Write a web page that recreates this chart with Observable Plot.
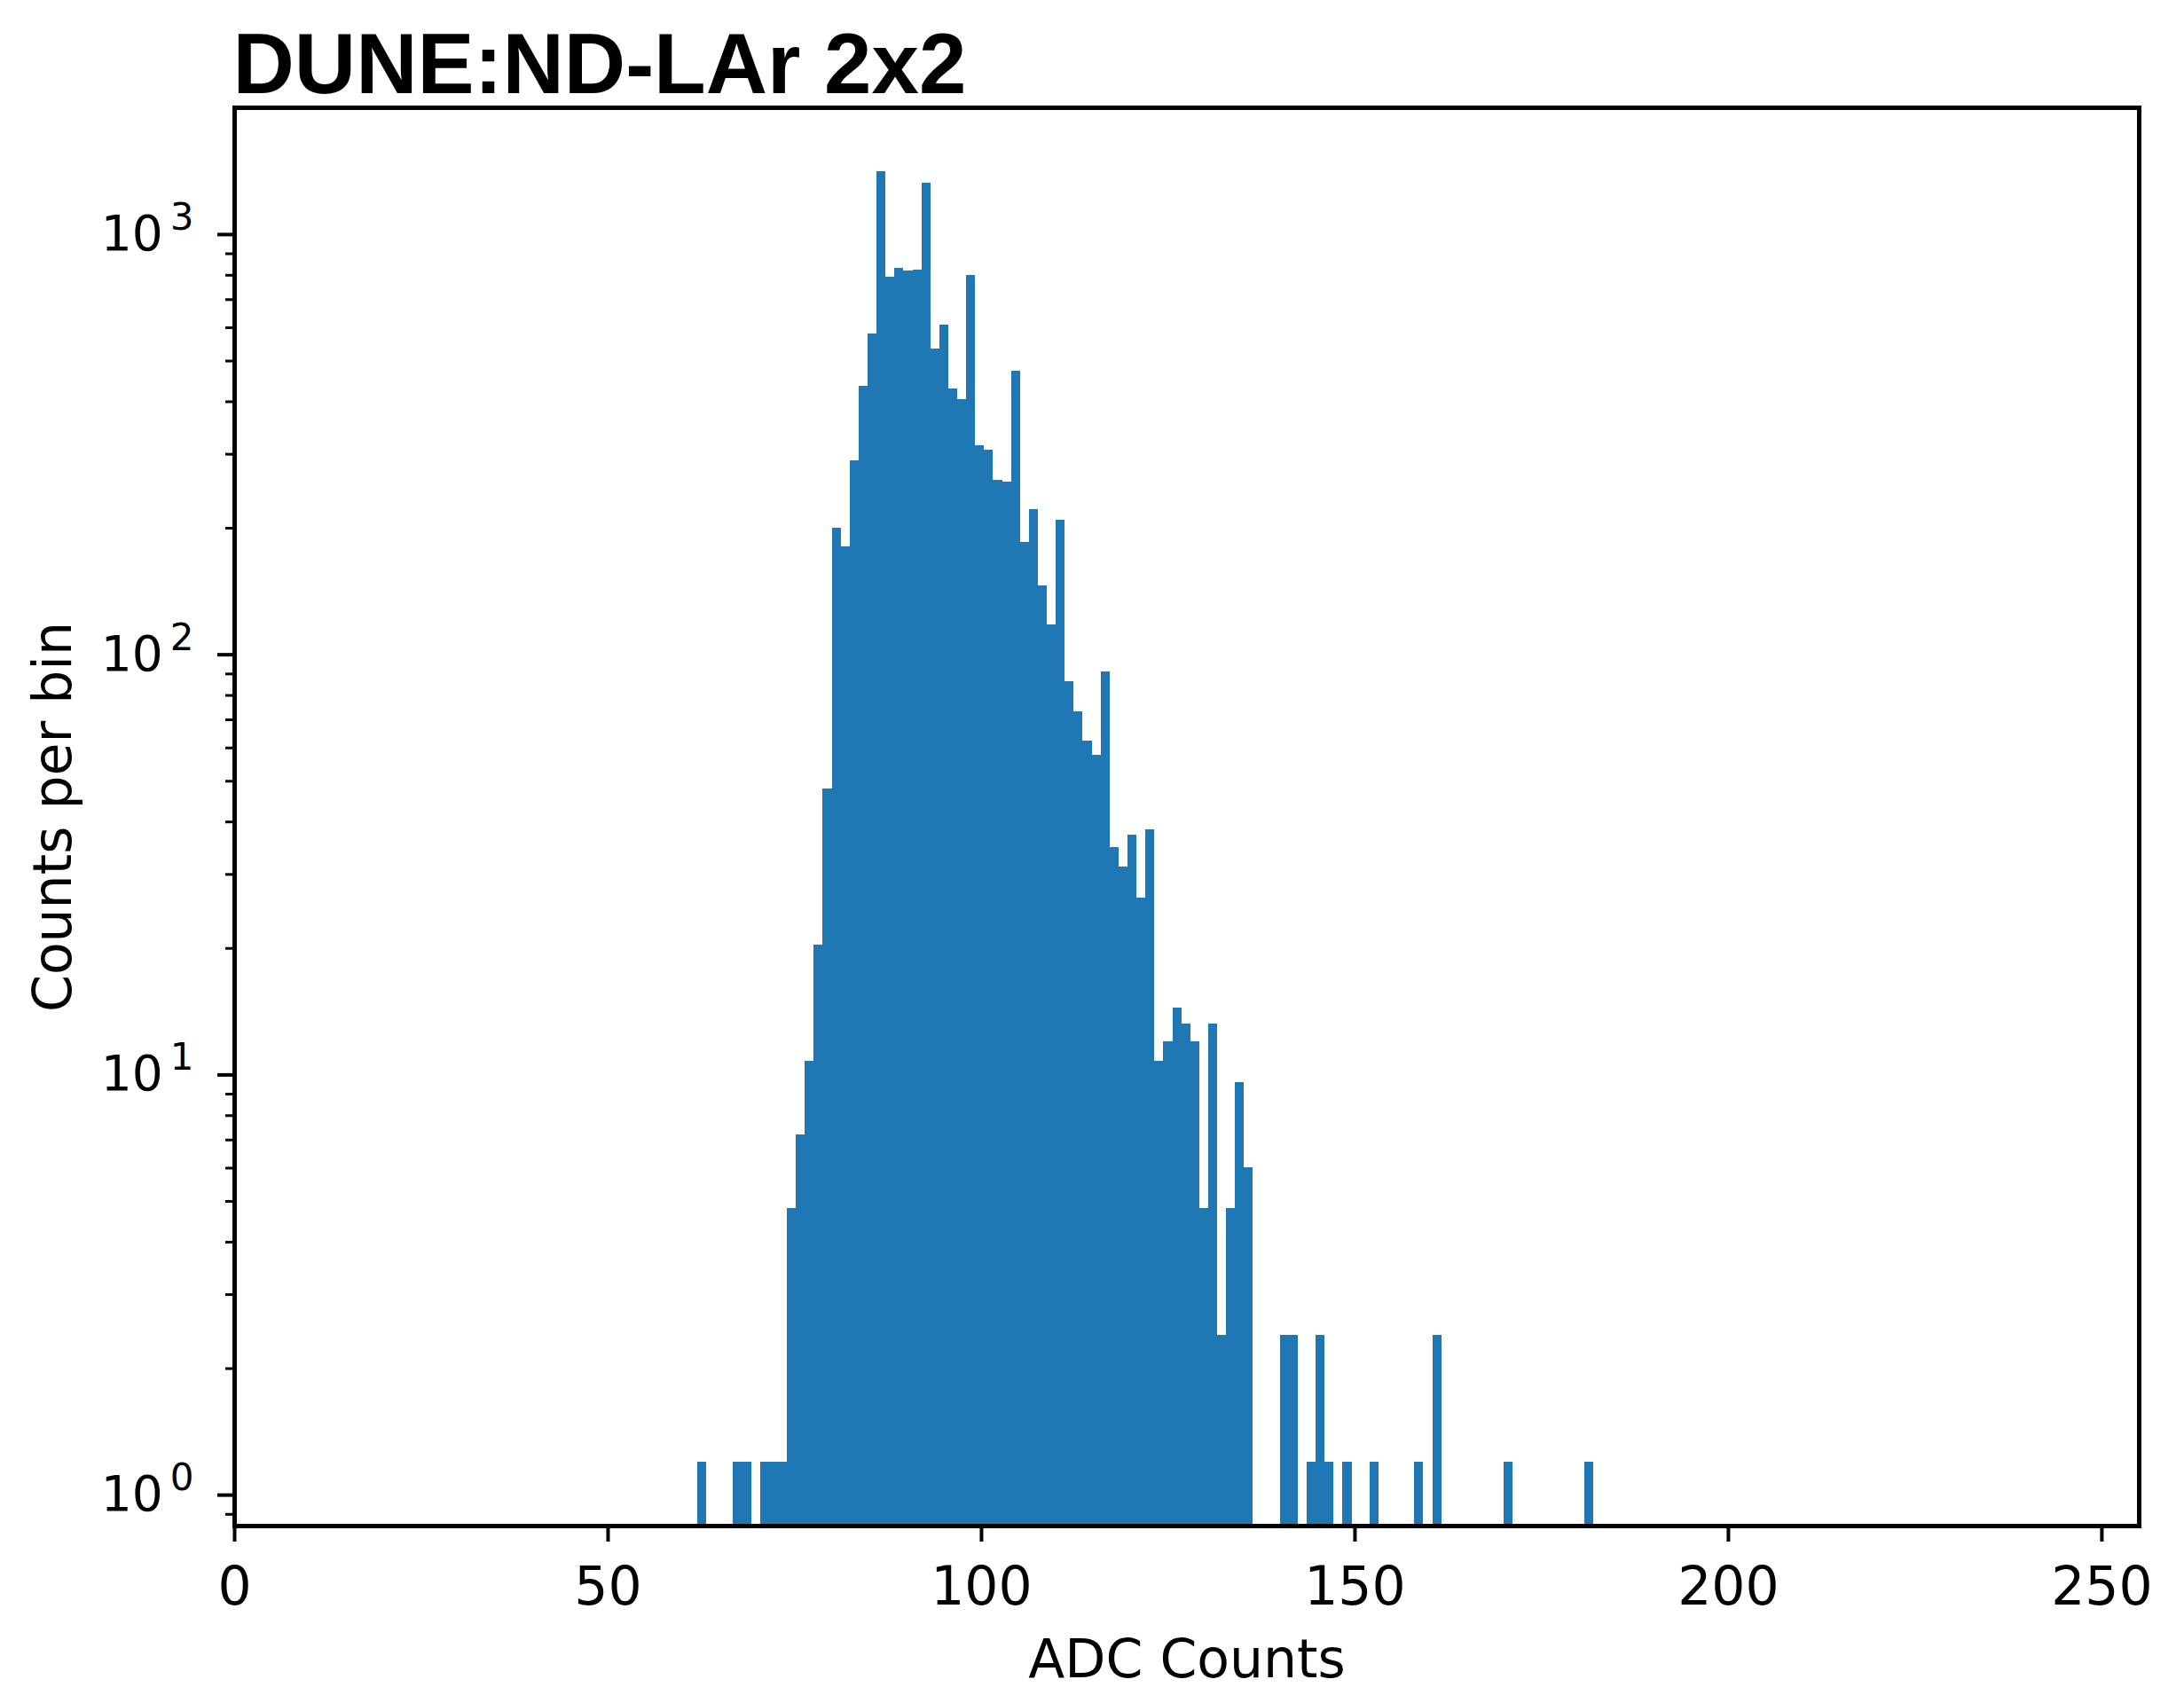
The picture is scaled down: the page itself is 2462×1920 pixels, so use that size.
<!DOCTYPE html>
<html>
<head>
<meta charset="utf-8">
<script src="https://cdn.jsdelivr.net/npm/d3@7"></script>
<script src="https://cdn.jsdelivr.net/npm/@observablehq/plot@0.6"></script>
<style>
  html, body { margin: 0; padding: 0; background: white; }
  #chart svg { display: block; }
</style>
</head>
<body>
<div id="chart"></div>
<script>
// Histogram definition: 100 equal bins between 62 and 182 ADC counts
const binMin = 62;
const binMax = 182;
const nBins = 100;

// Counts per bin, one value per bin
const binCounts = [
  1.2, 0, 0, 0, 1.2, 1.2, 0, 1.2, 1.2, 1.2,
  4.8, 7.2, 10.8, 20.4, 48, 200, 181, 289, 435, 580,
  1413, 791, 831, 819, 822, 1327, 535, 609, 430, 405,
  799, 315, 307, 260, 258, 473, 185, 222, 146, 118,
  209, 86.4, 73.2, 62.4, 57.6, 91.2, 34.8, 31.2, 37.2, 26.4,
  38.4, 10.8, 12, 14.4, 13.2, 12, 4.8, 13.2, 2.4, 4.8,
  9.6, 6, 0, 0, 0, 2.4, 2.4, 0, 1.2, 2.4,
  1.2, 0, 1.2, 0, 0, 1.2, 0, 0, 0, 0,
  1.2, 0, 2.4, 0, 0, 0, 0, 0, 0, 0,
  1.2, 0, 0, 0, 0, 0, 0, 0, 0, 1.2
];

const xTicks = [0, 50, 100, 150, 200, 250];
const yMajorTicks = [1, 10, 100, 1000];
const yMajorBase = "10";
const yMajorExponents = ["0", "1", "2", "3"];
const yMinorTicks = [0.9, 2, 3, 4, 5, 6, 7, 8, 9, 20, 30, 40, 50, 60, 70, 80, 90,
                     200, 300, 400, 500, 600, 700, 800, 900];
const xDomain = [0, 255];
const yDomain = [0.844, 2003];

const titleText = "DUNE:ND-LAr 2x2";
const xLabel = "ADC Counts";
const yLabel = "Counts per bin";

const binWidth = (binMax - binMin) / nBins;
const bins = binCounts
  .map((c, i) => ({x0: binMin + i * binWidth, x1: binMin + (i + 1) * binWidth, count: c}))
  .filter(d => d.count > 0);

const chart = Plot.plot({
  width: 2462,
  height: 1920,
  marginLeft: 264,
  marginRight: 51,
  marginTop: 121,
  marginBottom: 200,
  style: {fontFamily: "DejaVu Sans", fontSize: "60px", background: "white", color: "black", overflow: "visible"},
  x: {domain: xDomain},
  y: {type: "log", domain: yDomain},
  marks: [
    Plot.rectY(bins, {x1: "x0", x2: "x1", y1: yDomain[0], y2: "count", fill: "#1f77b4", shapeRendering: "crispEdges"}),
    Plot.axisX({ticks: xTicks, tickSize: 18, tickPadding: 28, strokeWidth: 4, label: null, tickFormat: d => String(d), fontSize: 60}),
    Plot.axisY({ticks: yMajorTicks, tickSize: 19, tickPadding: 27, strokeWidth: 4, label: null,
      tickFormat: (d) => yMajorBase + "^" + yMajorExponents[yMajorTicks.indexOf(d)], fontSize: 55}),
    Plot.axisY({ticks: yMinorTicks, tickSize: 10, strokeWidth: 3, label: null, tickFormat: () => ""}),
    Plot.frame({stroke: "black", strokeWidth: 5}),
    Plot.text([titleText], {text: d => d, frameAnchor: "top-left", textAnchor: "start", lineAnchor: "bottom",
      dy: -17, dx: -2, fontSize: 96, fontWeight: "bold", fontFamily: "Liberation Sans"}),
    Plot.text([xLabel], {text: d => d, frameAnchor: "bottom", textAnchor: "middle", lineAnchor: "bottom", dy: 170, fontSize: 60}),
    Plot.text([yLabel], {text: d => d, frameAnchor: "left", textAnchor: "middle", lineAnchor: "bottom", rotate: -90, dx: -185, fontSize: 60})
  ]
});

// Render "10^k" tick labels with a raised, smaller exponent (like matplotlib mathtext)
d3.select(chart).selectAll('g[aria-label="y-axis tick label"] text').each(function() {
  const t = d3.select(this);
  const s = t.text();
  if (!s.includes("^")) return;
  const [base, exp] = s.split("^");
  t.text(null);
  t.append("tspan").text(base);
  t.append("tspan").attr("dx", 8).attr("dy", -23).style("font-size", "42px").text(exp);
});

document.getElementById("chart").appendChild(chart);
</script>
</body>
</html>
